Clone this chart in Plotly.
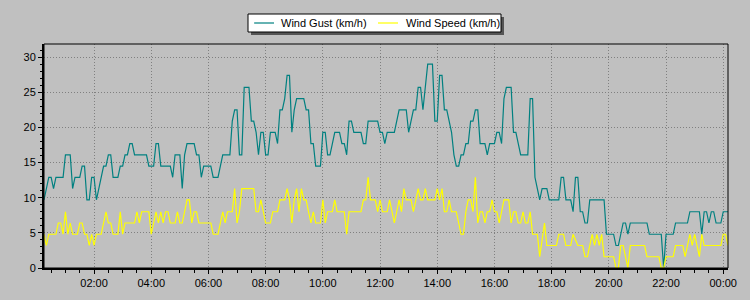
import pandas as pd
import plotly.graph_objects as go

# ---- data (minutes after midnight, km/h) ----
gust_min = [15, 25, 30, 35, 40, 55, 60, 70, 75, 80, 90, 95, 100, 105, 110, 115, 120, 125, 130, 135,
            140, 145, 150, 155, 160, 170, 175, 180, 185, 190, 195, 200, 205, 230, 235, 245, 250, 255,
            260, 280, 285, 290, 300, 305, 310, 315, 330, 335, 340, 345, 350, 365, 370, 380, 385, 390,
            405, 410, 415, 420, 425, 430, 435, 445, 450, 455, 460, 465, 470, 475, 480, 485, 490, 500,
            505, 510, 515, 520, 525, 530, 535, 540, 545, 560, 565, 570, 575, 580, 585, 595, 600, 605,
            610, 615, 620, 625, 635, 640, 645, 650, 655, 660, 665, 680, 685, 690, 695, 715, 720, 725,
            730, 735, 750, 755, 760, 775, 780, 790, 795, 800, 805, 810, 815, 820, 830, 835, 840, 845,
            850, 855, 860, 865, 870, 875, 880, 885, 890, 895, 900, 905, 910, 915, 920, 925, 930, 940,
            945, 950, 960, 965, 970, 975, 980, 985, 995, 1000, 1005, 1010, 1015, 1030, 1035, 1040,
            1045, 1050, 1055, 1060, 1070, 1075, 1095, 1100, 1105, 1110, 1120, 1125, 1130, 1135, 1140,
            1145, 1150, 1155, 1160, 1190, 1195, 1210, 1215, 1220, 1225, 1230, 1235, 1240, 1245, 1280,
            1285, 1310, 1315, 1320, 1335, 1340, 1365, 1370, 1390, 1395, 1400, 1405, 1410, 1415, 1420,
            1425, 1435, 1440, 1450]
gust_kmh = [9.7, 12.9, 12.9, 11.3, 12.9, 12.9, 16.1, 16.1, 11.3, 12.9, 12.9, 14.5, 14.5, 9.7, 9.7, 12.9, 12.9, 9.7, 11.3, 12.9,
            14.5, 14.5, 16.1, 16.1, 12.9, 12.9, 14.5, 14.5, 16.1, 16.1, 17.7, 17.7, 16.1, 16.1, 14.5, 14.5, 17.7, 17.7,
            14.5, 14.5, 12.9, 16.1, 16.1, 11.3, 16.1, 17.7, 17.7, 16.1, 16.1, 12.9, 14.5, 14.5, 12.9, 12.9, 14.5, 16.1,
            16.1, 20.9, 22.5, 22.5, 16.1, 16.1, 25.7, 25.7, 20.9, 20.9, 19.3, 16.1, 19.3, 19.3, 16.1, 16.1, 19.3, 19.3,
            17.7, 22.5, 22.5, 24.1, 27.4, 27.4, 19.3, 22.5, 24.1, 24.1, 22.5, 22.5, 17.7, 17.7, 14.5, 14.5, 19.3, 19.3,
            16.1, 16.1, 17.7, 19.3, 19.3, 17.7, 17.7, 16.1, 20.9, 20.9, 19.3, 19.3, 17.7, 17.7, 20.9, 20.9, 19.3, 19.3,
            17.7, 19.3, 19.3, 20.9, 22.5, 22.5, 19.3, 22.5, 22.5, 25.7, 25.7, 22.5, 25.7, 29.0, 29.0, 20.9, 20.9, 27.4,
            27.4, 22.5, 22.5, 20.9, 19.3, 16.1, 14.5, 14.5, 16.1, 16.1, 17.7, 17.7, 20.9, 20.9, 22.5, 22.5, 17.7, 17.7,
            16.1, 17.7, 17.7, 19.3, 19.3, 17.7, 24.1, 25.7, 25.7, 19.3, 19.3, 17.7, 16.1, 16.1, 24.1, 24.1,
            12.9, 11.3, 9.7, 11.3, 11.3, 9.7, 9.7, 12.9, 12.9, 9.7, 9.7, 8.0, 12.9, 12.9, 8.0,
            8.0, 6.4, 6.4, 9.7, 9.7, 4.8, 4.8, 3.2, 3.2, 4.8, 6.4, 6.4, 4.8, 6.4, 6.4,
            4.8, 4.8, 0.0, 4.8, 4.8, 6.4, 6.4, 8.0, 8.0, 4.8, 8.0, 8.0, 6.4, 8.0, 8.0,
            6.4, 6.4, 8.0, 8.0]

speed_min = [15, 20, 25, 40, 45, 50, 55, 60, 65, 70, 75, 85, 90, 95, 100, 105, 110, 115, 120, 125,
             135, 140, 145, 150, 155, 160, 170, 175, 180, 185, 205, 210, 215, 220, 235, 240, 245, 250,
             255, 260, 265, 270, 275, 280, 290, 295, 300, 305, 310, 315, 320, 325, 330, 335, 340, 365,
             370, 380, 385, 390, 395, 400, 410, 415, 420, 425, 430, 455, 460, 465, 470, 475, 480, 490,
             495, 505, 510, 520, 525, 530, 535, 540, 545, 550, 555, 560, 565, 570, 575, 580, 585, 595,
             600, 605, 610, 620, 625, 630, 645, 650, 655, 680, 685, 690, 695, 700, 710, 715, 720, 725,
             735, 740, 745, 750, 755, 760, 765, 770, 775, 785, 790, 795, 800, 805, 810, 815, 820, 835,
             840, 845, 850, 855, 860, 865, 870, 880, 885, 890, 895, 900, 905, 910, 915, 920, 925, 930,
             935, 940, 945, 950, 955, 960, 965, 970, 975, 980, 990, 995, 1000, 1005, 1010, 1015, 1020,
             1025, 1030, 1035, 1040, 1050, 1055, 1065, 1070, 1090, 1095, 1105, 1110, 1120, 1125, 1135,
             1145, 1150, 1155, 1160, 1165, 1170, 1175, 1180, 1185, 1190, 1210, 1215, 1220, 1225, 1230,
             1235, 1240, 1245, 1275, 1280, 1305, 1310, 1315, 1320, 1335, 1340, 1355, 1360, 1365, 1370,
             1375, 1380, 1390, 1395, 1400, 1435, 1440, 1445, 1450]
speed_kmh = [4.8, 3.2, 4.8, 4.8, 6.4, 6.4, 4.8, 8.0, 4.8, 6.4, 4.8, 4.8, 6.4, 6.4, 4.8, 4.8, 3.2, 4.8, 3.2, 4.8,
             4.8, 6.4, 8.0, 6.4, 6.4, 4.8, 4.8, 8.0, 4.8, 6.4, 6.4, 8.0, 6.4, 8.0, 8.0, 4.8, 6.4, 8.0,
             6.4, 8.0, 6.4, 8.0, 8.0, 6.4, 6.4, 8.0, 6.4, 6.4, 8.0, 9.7, 9.7, 6.4, 8.0, 8.0, 6.4, 6.4,
             4.8, 4.8, 6.4, 8.0, 6.4, 8.0, 8.0, 11.3, 6.4, 8.0, 11.3, 11.3, 8.0, 8.0, 9.7, 8.0, 6.4, 6.4,
             8.0, 8.0, 9.7, 9.7, 11.3, 9.7, 6.4, 9.7, 11.3, 8.0, 11.3, 9.7, 9.7, 8.0, 6.4, 8.0, 6.4, 6.4,
             9.7, 6.4, 8.0, 8.0, 9.7, 8.0, 8.0, 4.8, 8.0, 8.0, 9.7, 9.7, 12.9, 9.7, 9.7, 8.0, 9.7, 8.0,
             8.0, 9.7, 8.0, 6.4, 8.0, 9.7, 8.0, 11.3, 9.7, 9.7, 8.0, 9.7, 11.3, 9.7, 9.7, 11.3, 9.7, 9.7,
             11.3, 9.7, 11.3, 8.0, 8.0, 9.7, 8.0, 8.0, 6.4, 4.8, 4.8, 8.0, 9.7, 9.7, 8.0, 12.9, 6.4, 8.0,
             8.0, 6.4, 8.0, 8.0, 9.7, 8.0, 8.0, 6.4, 8.0, 9.7, 9.7, 6.4, 8.0, 8.0, 6.4, 6.4, 8.0,
             6.4, 6.4, 8.0, 4.8, 4.8, 1.6, 6.4, 3.2, 3.2, 4.8, 4.8, 3.2, 3.2, 4.8, 3.2,
             3.2, 1.6, 1.6, 3.2, 4.8, 3.2, 4.8, 3.2, 4.8, 1.6, 1.6, 0.0, 0.0, 3.2, 3.2,
             1.6, 0.0, 3.2, 3.2, 1.6, 1.6, 0.0, 0.0, 1.6, 1.6, 3.2, 3.2, 1.6, 3.2, 4.8,
             3.2, 4.8, 1.6, 4.8, 3.2, 3.2, 4.8, 4.8, 3.2]

series_names = ["Wind Gust (km/h)", "Wind Speed (km/h)"]
series_colors = ["#008080", "#ffff00"]

base = pd.Timestamp("2024-01-01")
gust_t = base + pd.to_timedelta(gust_min, unit="m")
speed_t = base + pd.to_timedelta(speed_min, unit="m")

BG = "#c0c0c0"
FONT = "Liberation Sans, Arial, sans-serif"
GRID_DASH = "1px,2px"

fig = go.Figure()
fig.add_trace(go.Scatter(x=gust_t, y=gust_kmh, mode="lines", name=series_names[0],
                         line=dict(color=series_colors[0], width=1.2), showlegend=False))
fig.add_trace(go.Scatter(x=speed_t, y=speed_kmh, mode="lines", name=series_names[1],
                         line=dict(color=series_colors[1], width=1.2), showlegend=False))

# plot geometry (px) for the hand-drawn legend
L, R, T, B = 44, 728, 44, 268
W, H = R - L, B - T
def px(x):
    return (x - L) / W
def py(y):
    return (B - y) / H

shapes = [
    # frame
    dict(type="rect", xref="paper", yref="paper", x0=0, y0=0, x1=1, y1=1,
         line=dict(color="black", width=1), layer="above"),
    # legend shadow
    dict(type="rect", xref="paper", yref="paper", x0=px(251), x1=px(504), y0=py(35), y1=py(17),
         fillcolor="#555555", line=dict(width=0)),
    # legend box
    dict(type="rect", xref="paper", yref="paper", x0=px(248), x1=px(501), y0=py(32), y1=py(14),
         fillcolor="white", line=dict(color="black", width=1)),
    dict(type="line", xref="paper", yref="paper", x0=px(254), x1=px(274), y0=py(23), y1=py(23),
         line=dict(color=series_colors[0], width=1.2)),
    dict(type="line", xref="paper", yref="paper", x0=px(378), x1=px(398), y0=py(23), y1=py(23),
         line=dict(color=series_colors[1], width=1.2)),
]
annotations = [
    dict(xref="paper", yref="paper", x=px(279), y=py(23), xanchor="left", yanchor="middle",
         text=series_names[0], showarrow=False, font=dict(family=FONT, size=11, color="black")),
    dict(xref="paper", yref="paper", x=px(404), y=py(23), xanchor="left", yanchor="middle",
         text=series_names[1], showarrow=False, font=dict(family=FONT, size=11, color="black")),
]

fig.update_layout(
    width=750, height=300,
    margin=dict(l=L, r=750 - R, t=T, b=300 - B, pad=0),
    paper_bgcolor=BG, plot_bgcolor=BG,
    font=dict(family=FONT, size=11, color="black"),
    shapes=shapes, annotations=annotations,
    showlegend=False,
)
fig.update_xaxes(
    type="date", range=[base + pd.Timedelta(minutes=15), base + pd.Timedelta(minutes=1450)],
    tickformat="%H:%M", tick0=base, dtick=7200000,
    ticks="outside", ticklen=4, tickcolor="black", tickwidth=1,
    showline=True, linecolor="black", linewidth=2,
    showgrid=True, gridcolor="#808080", griddash=GRID_DASH, gridwidth=1,
    zeroline=False,
    minor=dict(dtick=1800000, tick0=base, ticks="outside", ticklen=3, tickcolor="black", showgrid=False),
    tickfont=dict(family=FONT, size=11, color="black"),
)
fig.update_yaxes(
    range=[0, 31.86], tick0=0, dtick=5,
    ticks="outside", ticklen=4, tickcolor="black", tickwidth=1,
    showline=True, linecolor="black", linewidth=2,
    showgrid=True, gridcolor="#808080", griddash=GRID_DASH, gridwidth=1,
    zeroline=False,
    minor=dict(dtick=1, ticks="outside", ticklen=2, tickcolor="black", showgrid=False),
    tickfont=dict(family=FONT, size=11, color="black"),
)

fig.write_html("out.html")
